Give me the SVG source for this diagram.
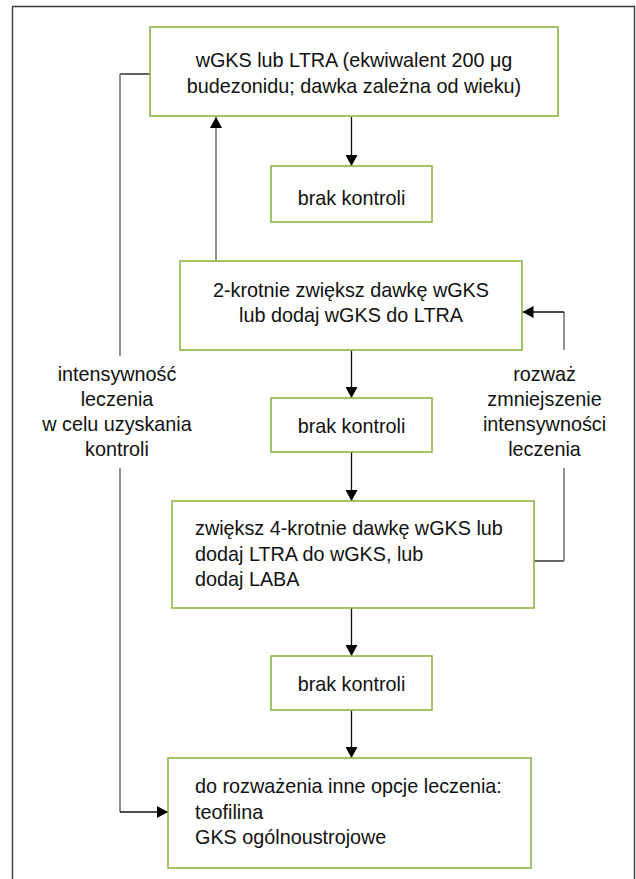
<svg xmlns="http://www.w3.org/2000/svg" width="636" height="879" viewBox="0 0 636 879">
<style>
.box{fill:#fff;stroke:#8fb548;stroke-width:1.6}
.t{font-family:"Liberation Sans",Arial,sans-serif;font-size:19.8px;fill:#111}
.c{text-anchor:middle}
.blk{fill:none;stroke:#111;stroke-width:1.3}
.gry{fill:none;stroke:#777;stroke-width:1.6}
</style>
<defs>
<marker id="ah" viewBox="0 0 11 12" refX="11" refY="6" markerWidth="11" markerHeight="12" markerUnits="userSpaceOnUse" orient="auto">
<path d="M0,0 L11,6 L0,12 z" fill="#000"/>
</marker>
</defs>
<rect width="636" height="879" fill="#fff"/>
<path d="M12.5,890 V6.5 H634.5 V890" fill="none" stroke="#3a3a3a" stroke-width="1.4"/>
<g id="connectors">
<path class="blk" d="M351.5,117 V166" marker-end="url(#ah)"/>
<path class="blk" d="M351.5,350 V398" marker-end="url(#ah)"/>
<path class="blk" d="M351.5,452 V501" marker-end="url(#ah)"/>
<path class="blk" d="M351.5,608 V656" marker-end="url(#ah)"/>
<path class="blk" d="M351.5,710 V758" marker-end="url(#ah)"/>
<path class="gry" d="M216,261 V117" marker-end="url(#ah)"/>
<path class="blk" d="M150,74 H120"/>
<path class="gry" d="M120,74 V356 M120,468 V812"/>
<path class="blk" d="M120,812 H168" marker-end="url(#ah)"/>
<path class="blk" d="M534,561 H564"/>
<path class="gry" d="M564,561 V468 M564,350 V312"/>
<path class="blk" d="M564,312 H522.5" marker-end="url(#ah)"/>
</g>
<g id="n1">
<rect class="box" x="150" y="27" width="408" height="89"/>
<text class="t c" x="354" y="67">wGKS lub LTRA (ekwiwalent 200 μg</text>
<text class="t c" x="354" y="93">budezonidu; dawka zależna od wieku)</text>
</g>
<g id="n2">
<rect class="box" x="271" y="166" width="161" height="56"/>
<text class="t c" x="351.5" y="205">brak kontroli</text>
</g>
<g id="n3">
<rect class="box" x="180" y="261" width="342" height="89"/>
<text class="t c" x="351" y="297">2-krotnie zwiększ dawkę wGKS</text>
<text class="t c" x="351" y="322">lub dodaj wGKS do LTRA</text>
</g>
<g id="n4">
<rect class="box" x="271" y="398" width="161" height="54"/>
<text class="t c" x="351.5" y="433">brak kontroli</text>
</g>
<g id="n5">
<rect class="box" x="172" y="501" width="362" height="107"/>
<text class="t" x="195" y="535">zwiększ 4-krotnie dawkę wGKS lub</text>
<text class="t" x="195" y="561">dodaj LTRA do wGKS, lub</text>
<text class="t" x="195" y="586">dodaj LABA</text>
</g>
<g id="n6">
<rect class="box" x="271" y="656" width="161" height="54"/>
<text class="t c" x="351.5" y="691">brak kontroli</text>
</g>
<g id="n7">
<rect class="box" x="168" y="758" width="363" height="110"/>
<text class="t" x="195" y="793">do rozważenia inne opcje leczenia:</text>
<text class="t" x="195" y="819">teofilina</text>
<text class="t" x="195" y="844">GKS ogólnoustrojowe</text>
</g>
<g id="label-left">
<text class="t c" x="117" y="381">intensywność</text>
<text class="t c" x="117" y="406">leczenia</text>
<text class="t c" x="117" y="431">w celu uzyskania</text>
<text class="t c" x="117" y="456">kontroli</text>
</g>
<g id="label-right">
<text class="t c" x="544.5" y="381">rozważ</text>
<text class="t c" x="544.5" y="406">zmniejszenie</text>
<text class="t c" x="544.5" y="431">intensywności</text>
<text class="t c" x="544.5" y="456">leczenia</text>
</g>
</svg>
